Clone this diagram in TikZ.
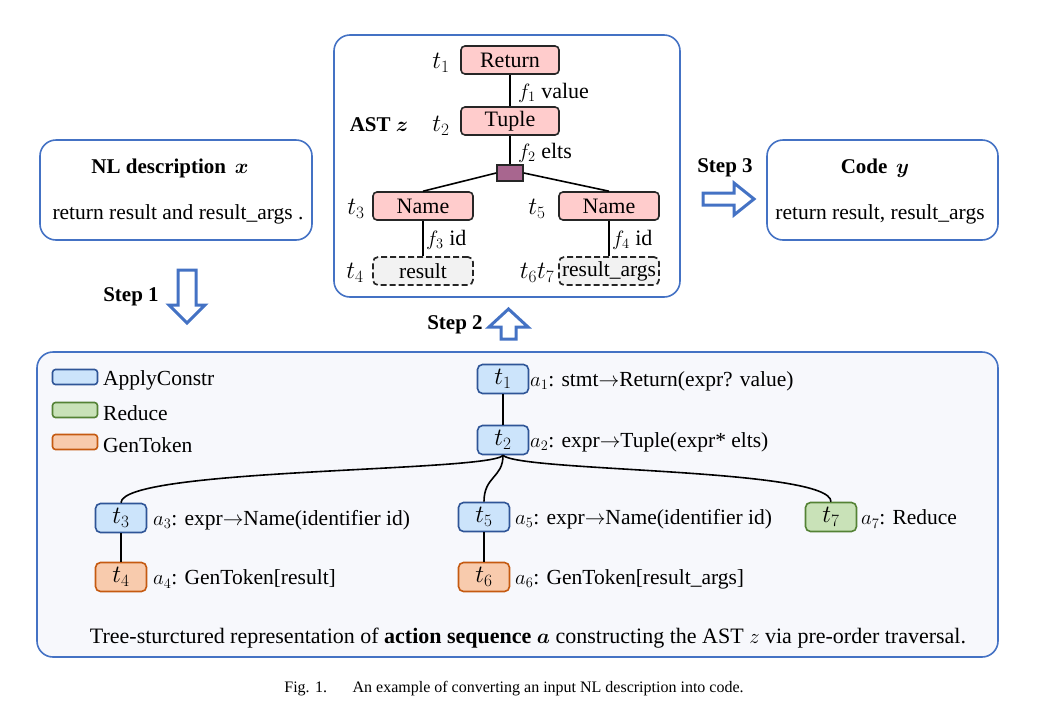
\documentclass[tikz,border=0pt]{standalone}
\usepackage{amsmath}
\usepackage{bm}
\usepackage{fontspec}
\setmainfont{Liberation Serif}
\usetikzlibrary{calc}
\definecolor{frameblue}{HTML}{4472C4}
\definecolor{astpink}{HTML}{FFCCCC}
\definecolor{sqpurple}{HTML}{A8668F}
\definecolor{tokgray}{HTML}{F2F2F2}
\definecolor{bgpanel}{HTML}{F7F8FC}
\definecolor{acfill}{HTML}{CCE4FB}
\definecolor{acdraw}{HTML}{2F5597}
\definecolor{rdfill}{HTML}{C9E2B8}
\definecolor{rddraw}{HTML}{548235}
\definecolor{gtfill}{HTML}{F8CBAD}
\definecolor{gtdraw}{HTML}{C55A11}
\tikzset{
  panel/.style={draw=frameblue, line width=1.6pt, rounded corners=16pt},
  astnode/.style={draw=black!85, fill=astpink, line width=1.6pt, rounded corners=4pt, minimum width=98pt, minimum height=28pt, inner sep=0pt, font=\fontsize{22}{24}\selectfont},
  toknode/.style={draw=black!85, fill=tokgray, dashed, dash pattern=on 6pt off 3pt, line width=1.7pt, rounded corners=5pt, minimum width=100pt, minimum height=28pt, inner sep=0pt, font=\fontsize{21.5}{23}\selectfont},
  lbl/.style={inner sep=0pt, font=\fontsize{21}{23}\selectfont},
  mlbl/.style={inner sep=0pt, font=\fontsize{23}{25}\selectfont},
  slbl/.style={inner sep=0pt, anchor=west, font=\fontsize{21.5}{23}\selectfont},
  tbox/.style={rounded corners=5pt, line width=1.6pt, minimum width=51pt, minimum height=29pt, inner sep=0pt, font=\fontsize{24}{26}\selectfont},
  ac/.style={tbox, draw=acdraw, fill=acfill},
  rd/.style={tbox, draw=rddraw, fill=rdfill},
  gt/.style={tbox, draw=gtdraw, fill=gtfill},
  legbox/.style={rounded corners=3pt, line width=1.6pt, minimum width=45pt, minimum height=15pt, inner sep=0pt},
  edge/.style={line width=1.6pt, black},
  steparrow/.style={draw=frameblue, fill=white, line width=3pt, line join=miter},
  steplbl/.style={inner sep=0pt, font=\bfseries\fontsize{21}{23}\selectfont},
}
\begin{document}
\begin{tikzpicture}[x=1pt,y=-1pt]
\useasboundingbox (0,0) rectangle (1045,702);
% panels
\draw[panel] (334,35) rectangle (680,297);
\draw[panel] (40,140) rectangle (312,240);
\draw[panel] (767,140) rectangle (998,240);
\draw[panel, fill=bgpanel] (37,352) rectangle (998,657);

% NL description
\node[lbl, font=\bfseries\fontsize{21}{23}\selectfont] (nltitle) at (170,168) {NL description \,$\bm{x}$};
\node[lbl, font=\fontsize{21.5}{23}\selectfont] (nltext) at (178,214) {return result and result\_args .};
% Code
\node[lbl, font=\bfseries\fontsize{21}{23}\selectfont] (codetitle) at (875,168) {Code \,$\bm{y}$};
\node[lbl, font=\fontsize{21.5}{23}\selectfont] (codetext) at (880,214) {return result, result\_args};

% AST
\node[astnode] (ret) at (510,60) {Return};
\node[astnode] (tup) at (510,121) {Tuple};
\node[draw=black!85, fill=sqpurple, line width=1.6pt, minimum width=26pt, minimum height=16pt, inner sep=0pt] (sq) at (510,173) {};
\node[astnode, minimum width=100pt] (nm1) at (423,206) {Name};
\node[astnode, minimum width=100pt] (nm2) at (609,206) {Name};
\node[toknode] (res) at (423,271) {result};
\node[toknode] (resa) at (609,271) {result\_args};
\node[mlbl] (l1) at (441,63) {$t_1$};
\node[mlbl] (l2) at (441,126) {$t_2$};
\node[lbl, font=\bfseries\fontsize{21}{23}\selectfont] (astz) at (379,125) {AST $\bm{z}$};
\node[mlbl] (l3) at (356,209) {$t_3$};
\node[mlbl] (l5) at (537,209) {$t_5$};
\node[mlbl] (l4) at (355,273) {$t_4$};
\node[mlbl] (l67) at (537,273) {$t_6t_7$};
\node[lbl, anchor=west, font=\fontsize{22}{24}\selectfont] (f1) at (518,93) {$f_1$ value};
\node[lbl, anchor=west, font=\fontsize{22}{24}\selectfont] (f2) at (518,153) {$f_2$ elts};
\node[lbl, anchor=west, font=\fontsize{22}{24}\selectfont] (f3) at (426,240) {$f_3$ id};
\node[lbl, anchor=west, font=\fontsize{22}{24}\selectfont] (f4) at (612,240) {$f_4$ id};
\draw[edge] (ret) -- (tup);
\draw[edge] (tup) -- (sq);
\draw[edge] (sq.west) -- (nm1.north);
\draw[edge] (sq.east) -- (nm2.north);
\draw[edge] (nm1) -- (res);
\draw[edge] (nm2) -- (resa);

% step arrows
\draw[steparrow] (178,270) -- (196,270) -- (196,305) -- (205,305) -- (187,323) -- (169,305) -- (178,305) -- cycle;
\node[steplbl] (s1) at (131,297) {Step 1};
\draw[steparrow] (501,339) -- (516,339) -- (516,327) -- (528,327) -- (508.5,309) -- (489,327) -- (501,327) -- cycle;
\node[steplbl] (s2) at (455,325) {Step 2};
\draw[steparrow] (703,193) -- (734,193) -- (734,183) -- (754,199) -- (734,215) -- (734,205) -- (703,205) -- cycle;
\node[steplbl] (s3) at (725,168) {Step 3};

% legend
\node[legbox, draw=acdraw, fill=acfill] (lg1) at (75,377) {};
\node[legbox, draw=rddraw, fill=rdfill] (lg2) at (75,410) {};
\node[legbox, draw=gtdraw, fill=gtfill] (lg3) at (75,442) {};
\node[slbl] (lgt1) at (103,380) {ApplyConstr};
\node[slbl] (lgt2) at (103,413) {Reduce};
\node[slbl] (lgt3) at (103,445) {GenToken};

% action tree
\node[ac] (a1) at (503,379) {$t_1$};
\node[ac] (a2) at (503,440) {$t_2$};
\node[ac] (a3) at (121,518) {$t_3$};
\node[gt] (a4) at (121,577) {$t_4$};
\node[ac] (a5) at (484,517) {$t_5$};
\node[gt] (a6) at (484,577) {$t_6$};
\node[rd] (a7) at (831,517) {$t_7$};
\node[slbl] (d1) at (530,381) {$a_1$: stmt$\rightarrow$Return(expr? value)};
\node[slbl] (d2) at (530,442) {$a_2$: expr$\rightarrow$Tuple(expr* elts)};
\node[slbl] (d3) at (153,520) {$a_3$: expr$\rightarrow$Name(identifier id)};
\node[slbl] (d4) at (153,579) {$a_4$: GenToken[result]};
\node[slbl] (d5) at (515,519) {$a_5$: expr$\rightarrow$Name(identifier id)};
\node[slbl] (d6) at (515,579) {$a_6$: GenToken[result\_args]};
\node[slbl] (d7) at (861,519) {$a_7$: Reduce};
\draw[edge] (a1) -- (a2);
\draw[edge] (a3) -- (a4);
\draw[edge] (a5) -- (a6);
\draw[edge] (a2.south) .. controls (490,472) and (122,468) .. (a3.north);
\draw[edge] (a2.south) .. controls (503,478) and (484,476) .. (a5.north);
\draw[edge] (a2.south) .. controls (520,472) and (831,468) .. (a7.north);

\node[lbl, font=\fontsize{22}{24}\selectfont] (summary) at (528,638) {Tree-sturctured representation of \textbf{action sequence} $\bm{a}$ constructing the AST $z$ via pre-order traversal.};
\node[lbl, font=\fontsize{16}{18}\selectfont] (caption) at (514,689) {Fig. 1.\hspace{1.6em}An example of converting an input NL description into code.};
\end{tikzpicture}
\end{document}
